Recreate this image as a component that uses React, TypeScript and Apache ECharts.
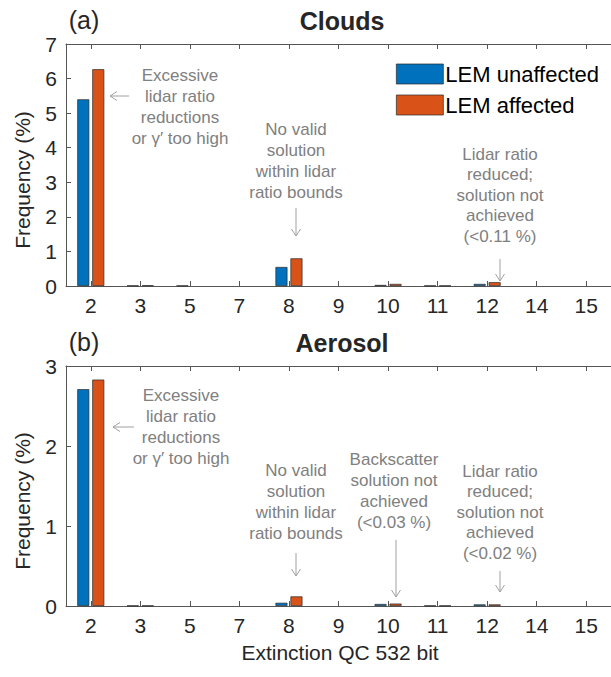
import React, { useEffect, useRef } from "react";
import * as echarts from "echarts";

const categories = ["2", "3", "5", "7", "8", "9", "10", "11", "12", "14", "15"];
const cloudsUnaffected = [5.4, 0.012, 0.01, 0, 0.55, 0, 0.03, 0.01, 0.06, 0, 0];
const cloudsAffected = [6.27, 0.02, 0, 0, 0.8, 0, 0.06, 0.01, 0.11, 0, 0];
const aerosolUnaffected = [2.71, 0.005, 0, 0, 0.04, 0, 0.025, 0.005, 0.02, 0, 0];
const aerosolAffected = [2.83, 0.005, 0, 0, 0.12, 0, 0.03, 0.005, 0.02, 0, 0];
const seriesNames = ["LEM unaffected", "LEM affected"];
const cloudsTicks = [0, 7, 1];
const aerosolTicks = [0, 3, 1];

const FONT = "Liberation Sans, Arial, sans-serif";
const DARK = "#262626";
const GRAY = "#808080";
const AXIS = "#555555";
const BLUE = "#0072BD";
const ORANGE = "#D95319";

function txt(x: number, y: number, text: string, size: number, color: string, extra: any = {}) {
  return {
    type: "text",
    x,
    y,
    silent: true,
    rotation: extra.rotation || 0,
    style: {
      text,
      fill: color,
      font: `${extra.bold ? "bold " : ""}${size}px ${FONT}`,
      textAlign: extra.align || "center",
      textVerticalAlign: "middle",
      lineHeight: extra.lineHeight || size * 1.2,
    },
  };
}

function arrow(x1: number, y1: number, x2: number, y2: number) {
  const dx = x2 - x1;
  const dy = y2 - y1;
  const len = Math.sqrt(dx * dx + dy * dy);
  const ux = dx / len;
  const uy = dy / len;
  const hl = 7;
  const hw = 4.5;
  const bx = x2 - ux * hl;
  const by = y2 - uy * hl;
  const px = -uy;
  const py = ux;
  const st = { stroke: "#a0a0a0", lineWidth: 1, fill: "none" };
  return [
    { type: "line", silent: true, shape: { x1, y1, x2, y2 }, style: st },
    {
      type: "polyline",
      silent: true,
      shape: { points: [[bx + px * hw, by + py * hw], [x2, y2], [bx - px * hw, by - py * hw]] },
      style: st,
    },
  ];
}

export default function App() {
  const ref = useRef<HTMLDivElement>(null);
  useEffect(() => {
    if (!ref.current) return;
    const chart = echarts.init(ref.current, null, { renderer: "svg" });
    const grids = [
      { left: 66, top: 44, right: -8, height: 242 },
      { left: 66, top: 366, right: -8, height: 240 },
    ];
    const axisLine = { show: true, lineStyle: { color: AXIS, width: 1 } };
    const tickStyle = { show: true, inside: true, length: 5, alignWithLabel: true, lineStyle: { color: AXIS } };
    const xAxes: any[] = [];
    const yAxes: any[] = [];
    [0, 1].forEach((g) => {
      xAxes.push({
        type: "category",
        gridIndex: g,
        data: categories,
        position: "bottom",
        axisLine,
        axisTick: tickStyle,
        axisLabel: { color: DARK, fontSize: 21, fontFamily: FONT, margin: 9 },
        splitLine: { show: false },
      });
      xAxes.push({
        type: "category",
        gridIndex: g,
        data: categories,
        position: "top",
        axisLine,
        axisTick: tickStyle,
        axisLabel: { show: false },
        splitLine: { show: false },
      });
    });
    [cloudsTicks, aerosolTicks].forEach((t, g) => {
      yAxes.push({
        type: "value",
        gridIndex: g,
        min: t[0],
        max: t[1],
        interval: t[2],
        axisLine,
        axisTick: { show: true, inside: true, length: 5, lineStyle: { color: AXIS } },
        axisLabel: { color: DARK, fontSize: 21, fontFamily: FONT, margin: 9 },
        splitLine: { show: false },
      });
    });
    const mkSeries = (name: string, data: number[], color: string, g: number) => ({
      type: "bar",
      name,
      xAxisIndex: g * 2,
      yAxisIndex: g,
      data: data.map((v) => (v === 0 ? null : v)),
      barWidth: 12,
      barGap: "25%",
      itemStyle: { color, borderColor: "#2a2a2a", borderWidth: 0.7 },
    });
    const graphics: any[] = [
      txt(84, 20, "(a)", 25, DARK),
      txt(342, 21, "Clouds", 25, DARK, { bold: true }),
      txt(84, 342, "(b)", 25, DARK),
      txt(342, 343, "Aerosol", 25, DARK, { bold: true }),
      txt(22, 180, "Frequency (%)", 21, DARK, { rotation: Math.PI / 2 }),
      txt(22, 501, "Frequency (%)", 21, DARK, { rotation: Math.PI / 2 }),
      txt(340, 652, "Extinction QC 532 bit", 21, DARK),
      txt(180, 107, "Excessive\nlidar ratio\nreductions\nor γ′ too high", 17, GRAY, { lineHeight: 21 }),
      ...arrow(129, 96, 110, 96),
      txt(296, 161, "No valid\nsolution\nwithin lidar\nratio bounds", 17, GRAY, { lineHeight: 21 }),
      ...arrow(296, 208, 296, 236),
      txt(500, 195, "Lidar ratio\nreduced;\nsolution not\nachieved\n(<0.11 %)", 17, GRAY, { lineHeight: 20.5 }),
      ...arrow(500, 259, 500, 281),
      txt(181, 427, "Excessive\nlidar ratio\nreductions\nor γ′ too high", 17, GRAY, { lineHeight: 21 }),
      ...arrow(134, 427, 113, 427),
      txt(296, 502, "No valid\nsolution\nwithin lidar\nratio bounds", 17, GRAY, { lineHeight: 21 }),
      ...arrow(296, 553, 296, 576),
      txt(394, 491, "Backscatter\nsolution not\nachieved\n(<0.03 %)", 17, GRAY, { lineHeight: 21 }),
      ...arrow(396, 540, 396, 597),
      txt(500, 512, "Lidar ratio\nreduced;\nsolution not\nachieved\n(<0.02 %)", 17, GRAY, { lineHeight: 20.5 }),
      ...arrow(500, 571, 500, 592),
    ];
    chart.setOption({
      animation: false,
      grid: grids,
      xAxis: xAxes,
      yAxis: yAxes,
      legend: {
        data: seriesNames,
        orient: "vertical",
        left: 396,
        top: 63,
        padding: 0,
        itemWidth: 47,
        itemHeight: 20,
        itemGap: 9,
        icon: "rect",
        itemStyle: { borderWidth: 0.7, borderColor: "#2a2a2a" },
        textStyle: { color: "#000", fontSize: 22, fontFamily: FONT, padding: [0, 0, 0, -3] },
        selectedMode: false,
      },
      series: [
        mkSeries(seriesNames[0], cloudsUnaffected, BLUE, 0),
        mkSeries(seriesNames[1], cloudsAffected, ORANGE, 0),
        mkSeries(seriesNames[0], aerosolUnaffected, BLUE, 1),
        mkSeries(seriesNames[1], aerosolAffected, ORANGE, 1),
      ],
      graphic: graphics,
    });
    return () => chart.dispose();
  }, []);
  return (
    <div
      ref={ref}
      style={{ position: "fixed", left: 0, top: 0, width: 611, height: 677, background: "#fff" }}
    />
  );
}
